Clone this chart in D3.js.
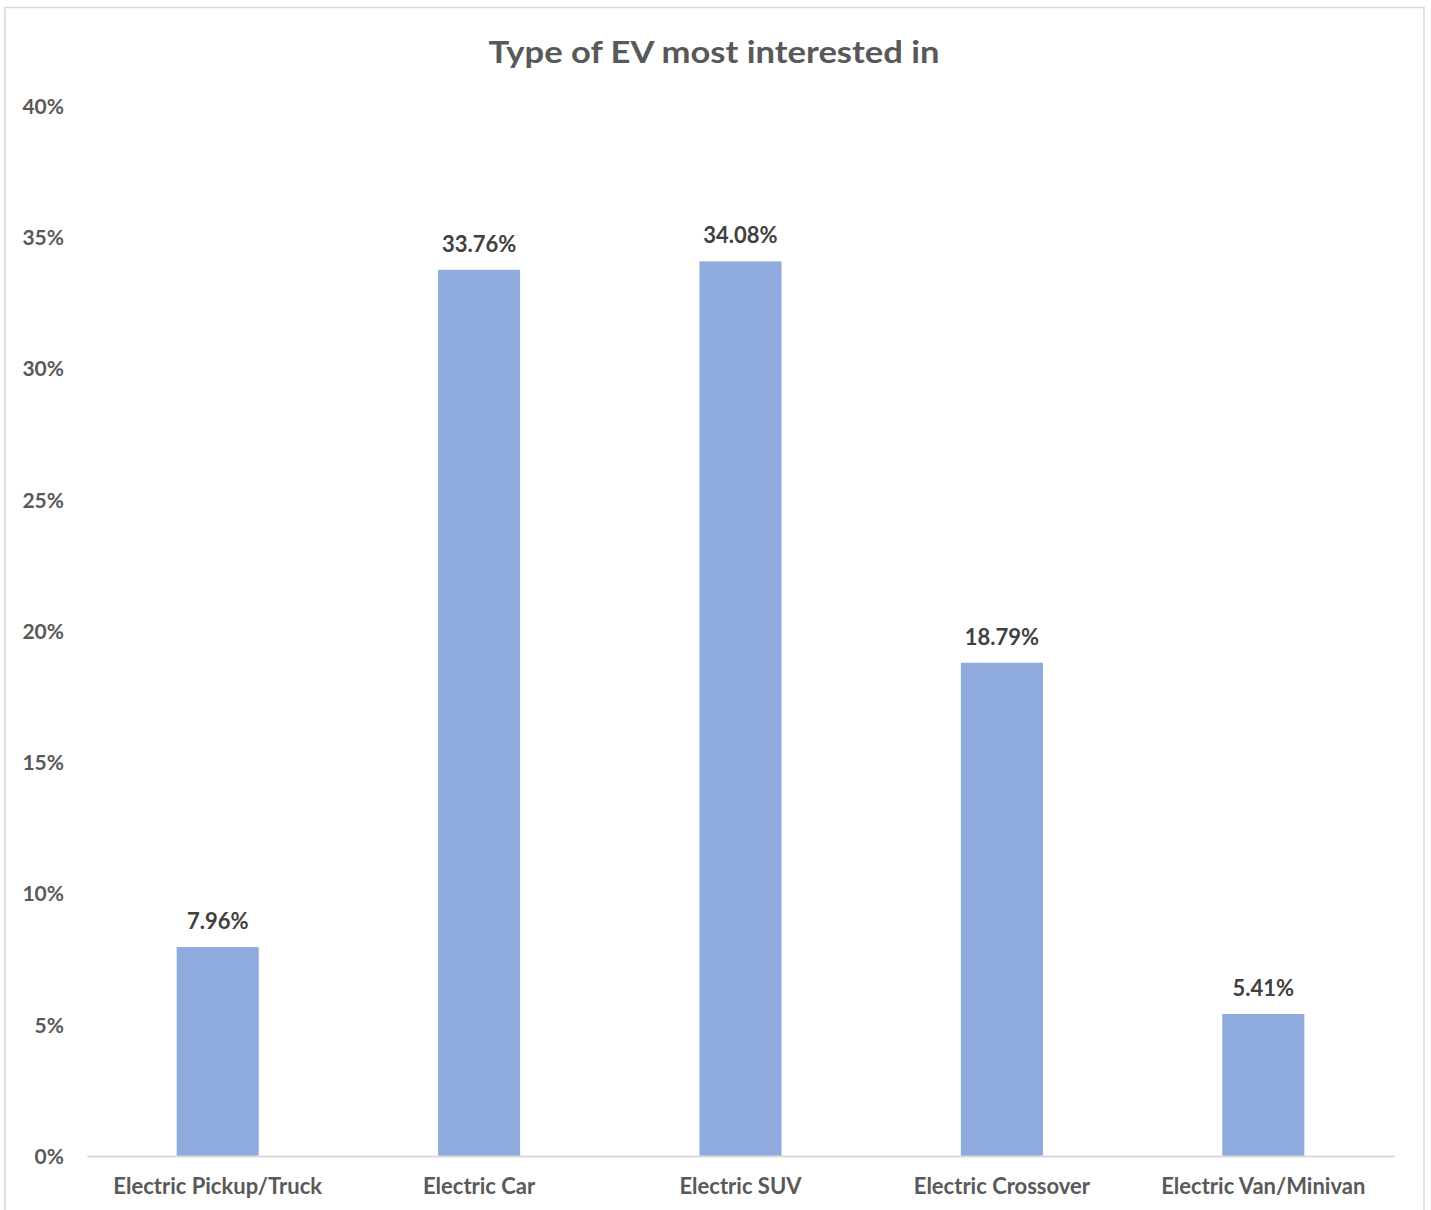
<!DOCTYPE html>
<html>
<head>
<meta charset="utf-8">
<script src="https://cdn.jsdelivr.net/npm/d3@7"></script>
<style>
  html, body { margin: 0; padding: 0; background: #ffffff; }
  svg { display: block; }
  text { font-family: Lato, "Open Sans", sans-serif; font-weight: 700; }
</style>
</head>
<body>
<svg id="chart" width="1431" height="1210"></svg>
<script>
// Survey results: share of respondents by EV type
const categories = ["Electric Pickup/Truck", "Electric Car", "Electric SUV", "Electric Crossover", "Electric Van/Minivan"];
const shares = [7.96, 33.76, 34.08, 18.79, 5.41];
const yTicks = [0, 5, 10, 15, 20, 25, 30, 35, 40];
const chartTitle = "Type of EV most interested in";

const svg = d3.select("#chart");
const W = 1431, H = 1210;

// outer frame
svg.append("rect")
  .attr("x", 5).attr("y", 7.5)
  .attr("width", 1419).attr("height", H + 10)
  .attr("fill", "#ffffff")
  .attr("stroke", "#d9d9d9").attr("stroke-width", 1.5);

const plot = { left: 87, right: 1394, top: 106, bottom: 1156 };

const x = d3.scaleBand()
  .domain(categories)
  .range([plot.left, plot.right])
  .paddingInner(0.686)
  .paddingOuter(0.343);

const y = d3.scaleLinear()
  .domain([0, 40])
  .range([plot.bottom, plot.top]);

// title
svg.append("text")
  .attr("x", 714).attr("y", 63)
  .attr("text-anchor", "middle")
  .attr("fill", "#595959")
  .attr("font-size", 31)
  .attr("textLength", 451).attr("lengthAdjust", "spacingAndGlyphs")
  .text(chartTitle);

// y axis labels (no line, no ticks)
const yAxis = d3.axisLeft(y)
  .tickValues(yTicks)
  .tickFormat(d => d + "%")
  .tickSize(0)
  .tickPadding(0);

const yG = svg.append("g")
  .attr("transform", `translate(64,0)`)
  .call(yAxis);
yG.select(".domain").remove();
yG.selectAll("text")
  .attr("fill", "#595959")
  .attr("font-size", 21)
  .attr("font-family", "Lato, 'Open Sans', sans-serif")
  .attr("font-weight", 700)
  .attr("dy", "0.35em");

// bars
svg.append("g").selectAll("rect")
  .data(categories)
  .join("rect")
  .attr("x", d => x(d))
  .attr("width", x.bandwidth())
  .attr("y", (d, i) => y(shares[i]))
  .attr("height", (d, i) => y(0) - y(shares[i]))
  .attr("fill", "#8faadc");

// x axis baseline and category labels
const xAxis = d3.axisBottom(x).tickSize(0).tickPadding(0);
const xG = svg.append("g")
  .attr("transform", `translate(0,${plot.bottom})`)
  .call(xAxis);
xG.select(".domain")
  .attr("stroke", "#d9d9d9")
  .attr("stroke-width", 2);
xG.selectAll("text")
  .attr("fill", "#595959")
  .attr("font-size", 22)
  .attr("font-family", "Lato, 'Open Sans', sans-serif")
  .attr("font-weight", 700)
  .attr("dy", 0)
  .attr("y", 38);

// value labels
svg.append("g").selectAll("text")
  .data(categories)
  .join("text")
  .attr("x", d => x(d) + x.bandwidth() / 2)
  .attr("y", (d, i) => y(shares[i]) - 18)
  .attr("text-anchor", "middle")
  .attr("fill", "#404040")
  .attr("font-size", 22)
  .text((d, i) => shares[i].toFixed(2) + "%");
</script>
</body>
</html>
